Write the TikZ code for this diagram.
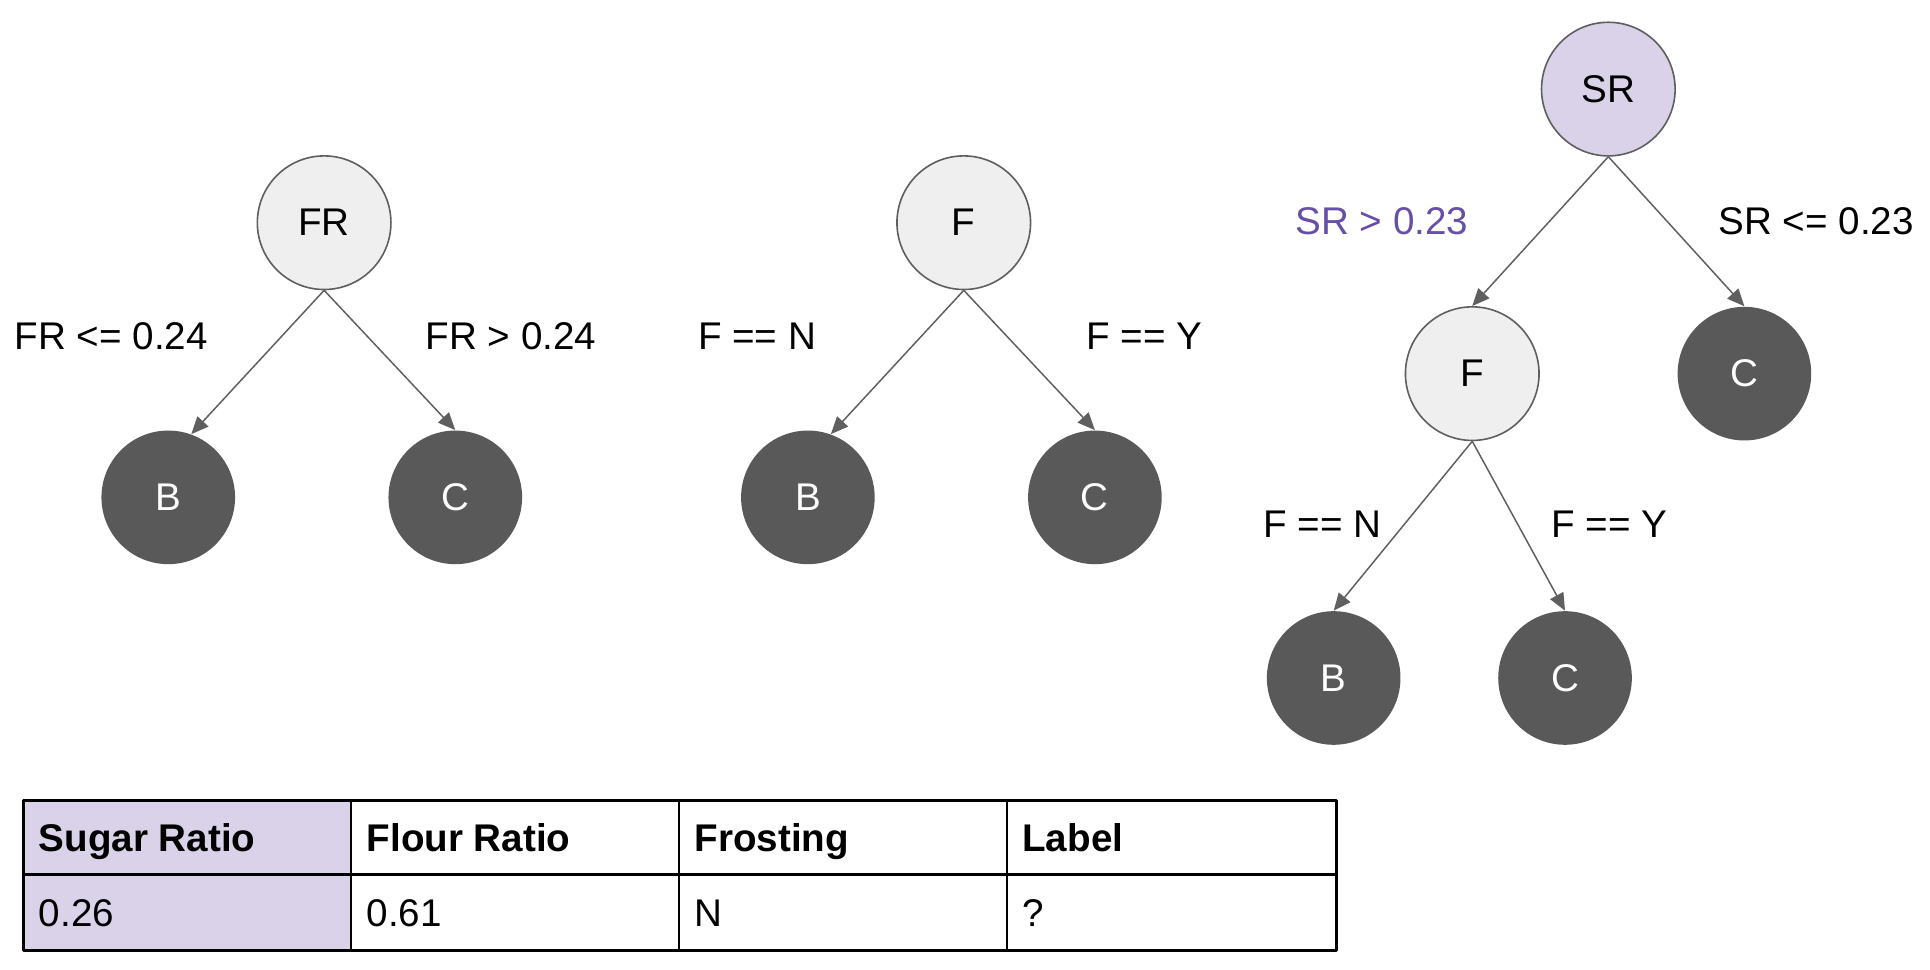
\documentclass[tikz,border=0pt]{standalone}
\usepackage{fontspec}
\setmainfont{Liberation Sans}
\usetikzlibrary{arrows.meta}
\definecolor{splitfill}{HTML}{EFEFEF}
\definecolor{leaffill}{HTML}{595959}
\definecolor{edgegray}{HTML}{5F5F5F}
\definecolor{lavender}{HTML}{D9D2E9}
\definecolor{darkpurple}{HTML}{674EA7}
\newcommand{\diagsize}{\fontsize{15.6}{18}\selectfont}
\tikzset{
	split/.style={circle,draw=edgegray,fill=splitfill,line width=0.65pt,minimum size=54pt,inner sep=0pt},
	leaf/.style={circle,fill=leaffill,text=white,minimum size=54pt,inner sep=0pt},
	cond/.style={inner sep=0pt},
	branch/.style={draw=edgegray,line width=0.6pt,-{Triangle[length=7pt,width=6pt]}},
	cell/.style={anchor=base west,inner sep=0pt}
}
\begin{document}
\begin{tikzpicture}[x=0.5pt,y=-0.5pt,line join=round,font=\diagsize]
	\useasboundingbox (0,0) rectangle (1560,784);
	% tree on flour ratio
	\node[split] (fr) at (262,180) {FR};
	\node[leaf] (frB) at (136,402) {B};
	\node[leaf] (frC) at (368,402) {C};
	\draw[branch] (fr.south) -- (frB.70);
	\draw[branch] (fr.south) -- (frC.north);
	\node[cond] (frL) at (90,272) {FR <= 0.24};
	\node[cond] (frR) at (413,272) {FR > 0.24};
	% tree on frosting
	\node[split] (fo) at (779,180) {F};
	\node[leaf] (foB) at (653,402) {B};
	\node[leaf] (foC) at (885,402) {C};
	\draw[branch] (fo.south) -- (foB.70);
	\draw[branch] (fo.south) -- (foC.north);
	\node[cond] (foL) at (612,272) {F == N};
	\node[cond] (foR) at (925,272) {F == Y};
	% tree on sugar ratio
	\node[split,fill=lavender] (sr) at (1300,72) {SR};
	\node[split] (srF) at (1190,302) {F};
	\node[leaf] (srC) at (1410,302) {C};
	\node[leaf] (srFB) at (1078,548) {B};
	\node[leaf] (srFC) at (1265,548) {C};
	\draw[branch] (sr.south) -- (srF.north);
	\draw[branch] (sr.south) -- (srC.north);
	\draw[branch] (srF.south) -- (srFB.north);
	\draw[branch] (srF.south) -- (srFC.north);
	\node[cond,text=darkpurple] (srL) at (1117,179) {SR > 0.23};
	\node[cond] (srR) at (1468,179) {SR <= 0.23};
	\node[cond] (srFL) at (1069,424) {F == N};
	\node[cond] (srFR) at (1301,424) {F == Y};
	% table
	\fill[lavender] (19,647) rectangle (284,768);
	\foreach \x in {284,549,814} \draw[line width=0.75pt] (\x,647) -- (\x,768);
	\draw[line width=1.3pt] (19,707) -- (1080,707);
	\draw[line width=1.3pt] (19,647) rectangle (1080,768);
	\foreach \x/\h/\v [count=\i] in {19/Sugar Ratio/0.26,284/Flour Ratio/0.61,549/Frosting/N,814/Label/?}{
		\node[cell,font=\diagsize\bfseries] (head\i) at (\x+12,688) {\h};
		\node[cell] (val\i) at (\x+12,749) {\v};
	}
\end{tikzpicture}
\end{document}
